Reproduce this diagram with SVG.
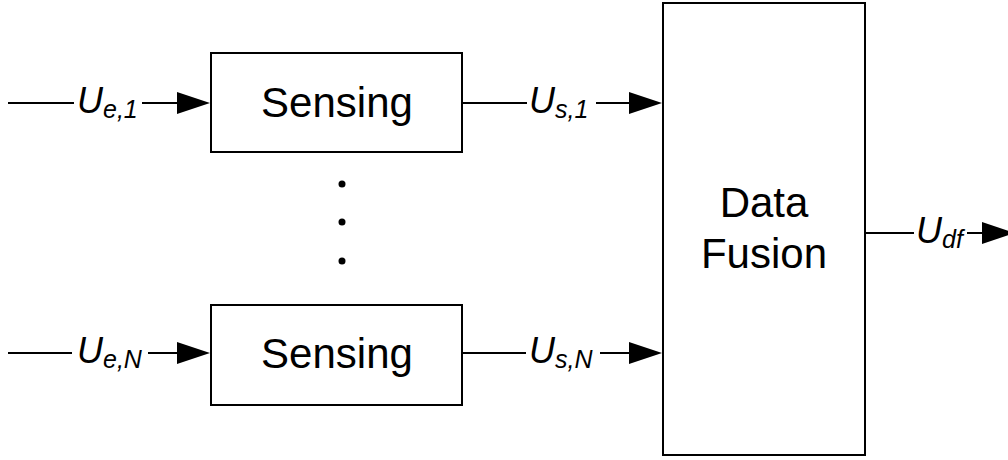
<svg xmlns="http://www.w3.org/2000/svg" width="1008" height="460" viewBox="0 0 1008 460">
<style>
.box{fill:#fff;stroke:#000;stroke-width:2}
.ln{stroke:#000;stroke-width:2;fill:none}
.ah{fill:#000}
.t{font-family:"Liberation Sans",Arial,sans-serif;font-size:42px;fill:#000;text-anchor:middle}
.lab{font-family:"Liberation Sans",Arial,sans-serif;font-style:italic;fill:#000}
.u{font-size:36px}
.sub{font-size:25px}
</style>
<rect width="1008" height="460" fill="#fff"/>
<g id="connectors">
  <line class="ln" x1="8" y1="103" x2="74" y2="103"/>
  <line class="ln" x1="142" y1="103" x2="180" y2="103"/>
  <polygon class="ah" points="177,92 210,103 177,114"/>
  <line class="ln" x1="8" y1="353" x2="72" y2="353"/>
  <line class="ln" x1="148" y1="353" x2="180" y2="353"/>
  <polygon class="ah" points="177,342 210,353 177,364"/>
  <line class="ln" x1="463" y1="103" x2="527" y2="103"/>
  <line class="ln" x1="596" y1="103" x2="632" y2="103"/>
  <polygon class="ah" points="629,92 662,103 629,114"/>
  <line class="ln" x1="463" y1="353" x2="526" y2="353"/>
  <line class="ln" x1="600" y1="353" x2="632" y2="353"/>
  <polygon class="ah" points="629,342 662,353 629,364"/>
  <line class="ln" x1="865" y1="233" x2="914" y2="233"/>
  <line class="ln" x1="967" y1="233" x2="985" y2="233"/>
  <polygon class="ah" points="982,222 1015,233 982,244"/>
  <text class="lab" x="77" y="113"><tspan class="u">U</tspan><tspan class="sub" dy="5">e,1</tspan></text>
  <text class="lab" x="77" y="363"><tspan class="u">U</tspan><tspan class="sub" dy="5">e,N</tspan></text>
  <text class="lab" x="529" y="113"><tspan class="u">U</tspan><tspan class="sub" dy="5">s,1</tspan></text>
  <text class="lab" x="529" y="363"><tspan class="u">U</tspan><tspan class="sub" dy="5">s,N</tspan></text>
  <text class="lab" x="916" y="243"><tspan class="u">U</tspan><tspan class="sub" dy="5">df</tspan></text>
</g>
<g id="sensing1">
  <rect class="box" x="211" y="53" width="251" height="99"/>
  <text class="t" x="337" y="117">Sensing</text>
</g>
<g id="sensingN">
  <rect class="box" x="211" y="305" width="251" height="100"/>
  <text class="t" x="337" y="368">Sensing</text>
</g>
<g id="dots">
  <circle cx="342" cy="184" r="3.5"/>
  <circle cx="342" cy="222" r="3.5"/>
  <circle cx="342" cy="261" r="3.5"/>
</g>
<g id="fusion">
  <rect class="box" x="663" y="3" width="202" height="452"/>
  <text class="t" x="764" y="217">Data</text>
  <text class="t" x="764" y="268">Fusion</text>
</g>
</svg>
